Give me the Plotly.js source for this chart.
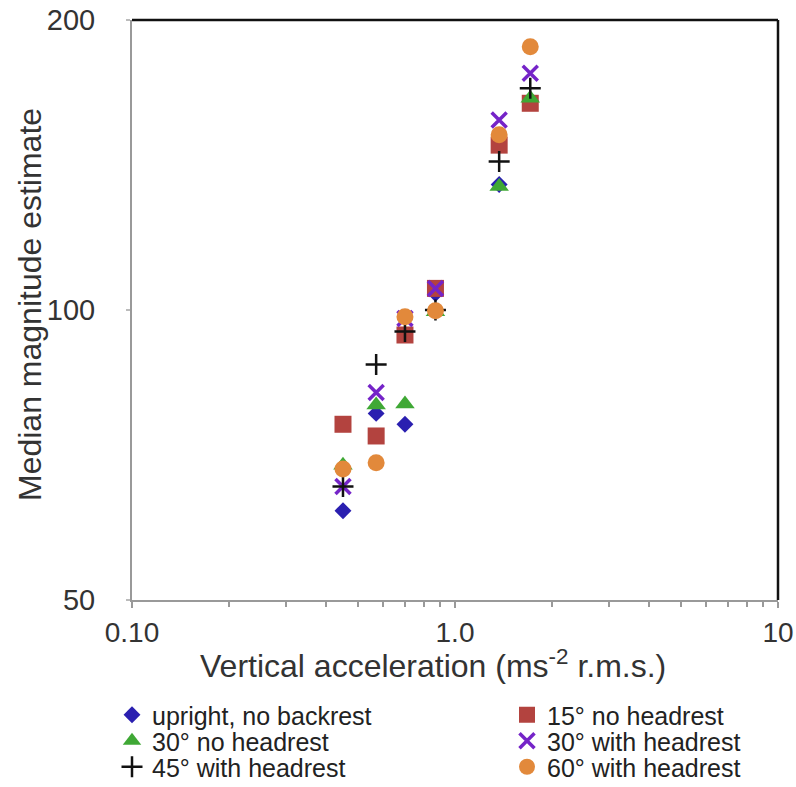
<!DOCTYPE html>
<html>
<head>
<meta charset="utf-8">
<script src="https://cdn.plot.ly/plotly-3.0.1.min.js"></script>
<style>html,body{margin:0;padding:0;background:#fff;}#chart{width:796px;height:787px;}</style>
</head>
<body>
<div id="chart"></div>
<script>
// Vertical acceleration (ms-2 r.m.s.)
const accel = [0.45, 0.57, 0.70, 0.87, 1.37, 1.71];
// Median magnitude estimates per posture
const uprightNoBackrest = [61.9, 78.1, 76.1, 104, 135, 165];
const deg15NoHeadrest   = [76.1, 74.0, 94.2, 105.3, 148.3, 163.9];
const deg30NoHeadrest   = [69.0, 79.7, 79.9, 99.6, 134.3, 165.9];
const deg30WithHeadrest = [65.6, 82.1, 98.0, 105.3, 157.5, 176.1];
const deg45WithHeadrest = [65.6, 87.8, 95.0, 100.0, 142.6, 169.9];
const deg60WithHeadrest = [68.4, 69.4, 98.4, 99.8, 152.0, 187.6];

const seriesNames = ["upright, no backrest", "15° no headrest", "30° no headrest",
                     "30° with headrest", "45° with headrest", "60° with headrest"];

const xTitle = 'Vertical acceleration (ms<sup>-2</sup> r.m.s.)';
const yTitle = 'Median magnitude estimate';
const xTickVals = [0.1, 1, 10];
const xTickText = ["0.10", "1.0", "10"];
const xMinorVals = [0.2,0.3,0.4,0.5,0.6,0.7,0.8,0.9,2,3,4,5,6,7,8,9];
const yTickVals = [50, 100, 200];
const yTickText = ["50", "100", "200"];

const FAM = 'Liberation Sans, Arial, sans-serif';
const L = 132, T = 20, W = 646, H = 580;

const traces = [
  {y: uprightNoBackrest, name: seriesNames[0], legend: 'legend',  marker: {symbol: 'diamond', size: 13, color: '#2a1fb0'}},
  {y: deg15NoHeadrest,   name: seriesNames[1], legend: 'legend2', marker: {symbol: 'square', size: 17, color: '#b3433f'}},
  {y: deg30NoHeadrest,   name: seriesNames[2], legend: 'legend3', marker: {symbol: 'triangle-up', size: 17, color: '#3fa835'}},
  {y: deg30WithHeadrest, name: seriesNames[3], legend: 'legend4', marker: {symbol: 'x-thin-open', size: 15, color: '#7524c8', line: {width: 3.5, color: '#7524c8'}}},
  {y: deg45WithHeadrest, name: seriesNames[4], legend: 'legend5', marker: {symbol: 'cross-thin-open', size: 15, color: '#111', line: {width: 2.5, color: '#111'}}},
  {y: deg60WithHeadrest, name: seriesNames[5], legend: 'legend6', marker: {symbol: 'circle', size: 17, color: '#e2893b'}}
].map(t => Object.assign({x: accel, type: 'scatter', mode: 'markers', showlegend: true}, t));

function leg(xpx, ypx) {
  return {
    xref: 'paper', yref: 'paper',
    x: (xpx - L) / W, xanchor: 'left',
    y: (T + H - ypx) / H, yanchor: 'middle',
    orientation: 'v', bgcolor: 'rgba(0,0,0,0)', borderwidth: 0,
    itemwidth: 30,
    font: {family: FAM, size: 25, color: '#222'}
  };
}

const layout = {
  width: 796, height: 787,
  margin: {l: L, r: 796 - L - W, t: T, b: 787 - T - H, autoexpand: false},
  paper_bgcolor: '#fff', plot_bgcolor: '#fff',
  font: {family: FAM, color: '#333'},
  showlegend: true,
  legend:  leg(112, 715),
  legend3: leg(112, 741),
  legend5: leg(112, 767),
  legend2: leg(507, 715),
  legend4: leg(507, 741),
  legend6: leg(507, 767),
  xaxis: {
    type: 'log', range: [-1, 1],
    tickmode: 'array', tickvals: xTickVals, ticktext: xTickText,
    ticks: 'outside', ticklen: 6, tickwidth: 2, tickcolor: '#999',
    ticklabelstandoff: 0,
    minor: {tickmode: 'array', tickvals: xMinorVals, ticks: 'outside', ticklen: 5, tickwidth: 2, tickcolor: '#999'},
    showline: true, linecolor: '#999', linewidth: 2,
    showgrid: false, zeroline: false,
    tickfont: {family: FAM, size: 28, color: '#333'},
    automargin: false
  },
  yaxis: {
    type: 'log', range: [Math.log10(50), Math.log10(200)],
    tickmode: 'array', tickvals: yTickVals, ticktext: yTickText,
    ticks: 'outside', ticklen: 4, tickwidth: 2, tickcolor: '#bbb',
    ticklabelstandoff: 25,
    showline: true, linecolor: '#999', linewidth: 2,
    showgrid: false, zeroline: false,
    tickfont: {family: FAM, size: 29, color: '#333'},
    automargin: false
  },
  annotations: [
    {text: xTitle, xref: 'paper', yref: 'paper', x: (433 - L) / W, y: (T + H - 664) / H,
     xanchor: 'center', yanchor: 'middle', showarrow: false, font: {family: FAM, size: 32, color: '#333'}},
    {text: yTitle, xref: 'paper', yref: 'paper', x: (30 - L) / W, y: (T + H - 305) / H, textangle: -90,
     xanchor: 'center', yanchor: 'middle', showarrow: false, font: {family: FAM, size: 32, color: '#333'}}
  ],
  shapes: [
    {type: 'line', xref: 'paper', yref: 'paper', x0: 0, x1: 1, y0: 1, y1: 1, line: {color: '#111', width: 2.5}},
    {type: 'line', xref: 'paper', yref: 'paper', x0: 1, x1: 1, y0: 0, y1: 1, line: {color: '#111', width: 2.5}}
  ]
};

Plotly.newPlot('chart', traces, layout, {displayModeBar: false, staticPlot: true});
</script>
</body>
</html>
